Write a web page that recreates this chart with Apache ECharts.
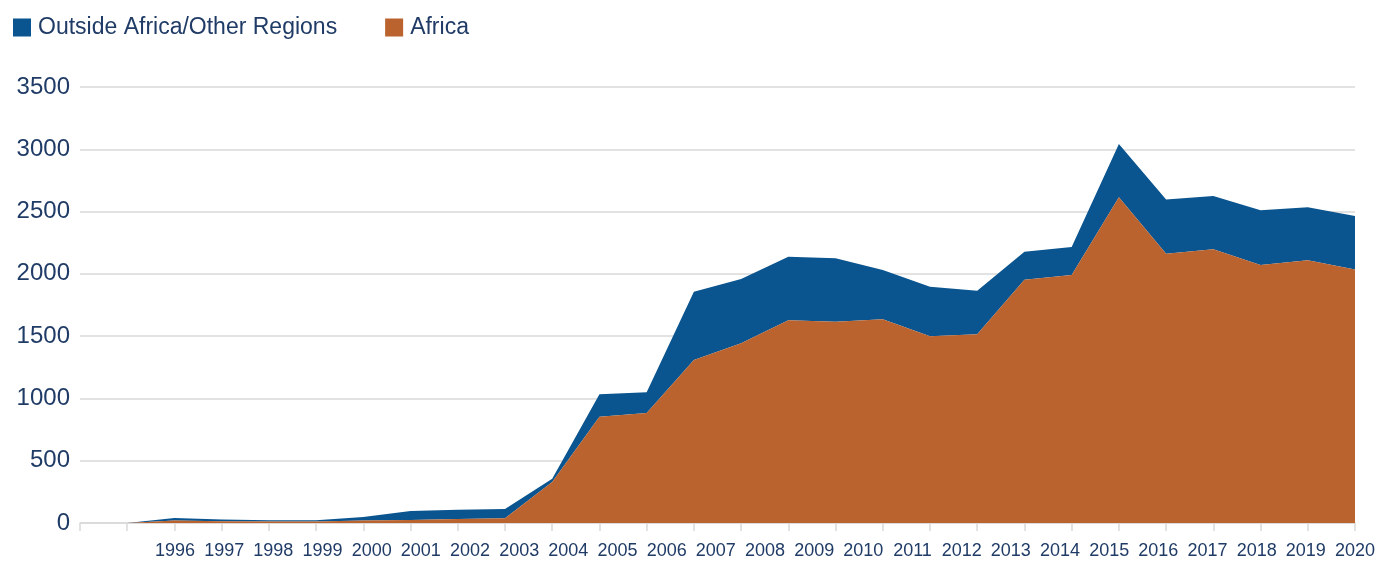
<!DOCTYPE html>
<html>
<head>
<meta charset="utf-8">
<title>Africa vs Outside Africa</title>
<script src="https://cdn.jsdelivr.net/npm/echarts@6/dist/echarts.min.js"></script>
<style>
	html, body { margin: 0; padding: 0; background: #fff; }
	#chart { width: 1391px; height: 561px; }
</style>
</head>
<body>
<div id="chart"></div>
<script>
// data slots along the axis (first slot empty, second starts at 0)
var slots = ['', '', '', '', '', '', '', '', '', '', '', '', '', '', '', '', '', '', '', '', '', '', '', '', '', '', '', ''];
// year labels printed under the axis
var yearLabels = ['1996', '1997', '1998', '1999', '2000', '2001', '2002', '2003', '2004', '2005', '2006', '2007', '2008',
	'2009', '2010', '2011', '2012', '2013', '2014', '2015', '2016', '2017', '2018', '2019', '2020'];
var africa = [null, 0, 20, 15, 12, 12, 20, 25, 33, 38, 330, 853, 883, 1309, 1442, 1627, 1616, 1635, 1499, 1515,
	1953, 1991, 2615, 2162, 2197, 2071, 2109, 2034];
var outside = [null, 0, 20, 13, 11, 11, 28, 71, 74, 74, 25, 180, 166, 548, 517, 511, 509, 396, 398, 350,
	225, 225, 428, 434, 428, 439, 425, 431];
var yTicks = [0, 500, 1000, 1500, 2000, 2500, 3000, 3500];

var navy = '#1f3b66';
var blue = '#0a548f';
var orange = '#ba632e';

var myChart = echarts.init(document.getElementById('chart'));

var option = {
	animation : false,
	textStyle : {
		fontFamily : 'Liberation Sans, Arial, sans-serif'
	},
	legend : {
		left : 8,
		top : 11,
		itemWidth : 18,
		itemHeight : 18,
		itemGap : 48,
		icon : 'rect',
		textStyle : {
			color : navy,
			fontSize : 23,
			padding : [0, 0, 0, 2]
		},
		data : ['Outside Africa/Other Regions', 'Africa']
	},
	grid : [
		{ left : 80, right : 36, top : 87, bottom : 38 },
		{ left : 175, right : 36, top : 87, bottom : 38 }
	],
	xAxis : [
		{
			type : 'category',
			gridIndex : 0,
			boundaryGap : false,
			data : slots,
			axisLine : { lineStyle : { color : '#d9d9d9', width : 1.5 } },
			axisTick : { show : true, length : 8, interval : 0, lineStyle : { color : '#d9d9d9', width : 1.5 } },
			axisLabel : { show : false },
			splitLine : { show : false }
		},
		{
			// only carries the year labels
			type : 'category',
			gridIndex : 1,
			boundaryGap : false,
			data : yearLabels,
			axisLine : { show : false },
			axisTick : { show : false },
			axisLabel : { interval : 0, color : navy, fontSize : 18, margin : 19 },
			splitLine : { show : false }
		}
	],
	yAxis : [
		{
			type : 'value',
			gridIndex : 0,
			min : yTicks[0],
			max : yTicks[yTicks.length - 1],
			interval : 500,
			axisLine : { show : false },
			axisTick : { show : false },
			axisLabel : {
				color : navy,
				fontSize : 24,
				margin : 10,
				formatter : function(val) {
					return String(val);
				}
			},
			splitLine : { lineStyle : { color : '#d9d9d9', width : 1.5 } }
		},
		{
			type : 'value',
			gridIndex : 1,
			show : false,
			min : 0,
			max : 3500
		}
	],
	series : [
		{
			name : 'Africa',
			type : 'line',
			stack : 'total',
			xAxisIndex : 0,
			yAxisIndex : 0,
			symbol : 'none',
			lineStyle : { width : 0 },
			itemStyle : { color : orange },
			areaStyle : { color : orange, opacity : 1 },
			data : africa,
			z : 3
		},
		{
			name : 'Outside Africa/Other Regions',
			type : 'line',
			stack : 'total',
			xAxisIndex : 0,
			yAxisIndex : 0,
			symbol : 'none',
			lineStyle : { width : 0 },
			itemStyle : { color : blue },
			areaStyle : { color : blue, opacity : 1 },
			data : outside,
			z : 2
		}
	]
};
myChart.setOption(option);
</script>
</body>
</html>
